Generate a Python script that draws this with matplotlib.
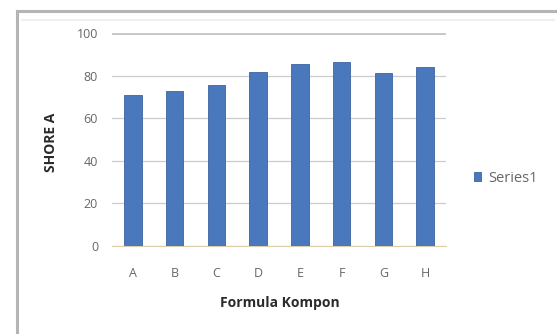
import matplotlib
matplotlib.use("Agg")
import matplotlib.pyplot as plt
from matplotlib.lines import Line2D

categories = ["A", "B", "C", "D", "E", "F", "G", "H"]
shore_a = [71, 73, 75.5, 81.5, 85.5, 86.5, 81, 84]
y_ticks = [0, 20, 40, 60, 80, 100]

plt.rcParams["font.family"] = ["Open Sans", "DejaVu Sans"]

W, H = 557, 334
fig = plt.figure(figsize=(W / 100, H / 100), dpi=100)
fig.patch.set_facecolor("white")

# chart frame
fig.add_artist(Line2D([17/W, 17/W], [0, 1 - 11/H], color="#b4b4b4", lw=2.2,
                      transform=fig.transFigure))
fig.add_artist(Line2D([17/W, 1], [1 - 11/H, 1 - 11/H], color="#b4b4b4", lw=2.2,
                      transform=fig.transFigure))
fig.add_artist(Line2D([22/W, 0.995], [1 - 20/H, 1 - 20/H], color="#f0f0f0", lw=1.5,
                      transform=fig.transFigure))

left, bottom, top, right = 112, 246, 33, 446
ax = fig.add_axes([left / W, 1 - bottom / H, (right - left) / W, (bottom - top) / H])
x = range(len(categories))
ax.bar(x, shore_a, width=0.42, color="#4a78bc", edgecolor="#3d63a0",
       linewidth=0.6, label="Series1", zorder=3)

ax.set_xlim(-0.5, len(categories) - 0.5)
ax.set_ylim(0, 100)
ax.set_yticks(y_ticks)
ax.set_xticks(list(x))
ax.set_xticklabels(categories)
ax.grid(axis="y", color="#cccccc", lw=0.9, zorder=0)
ax.axhline(100, color="#bdbdbd", lw=2.0, zorder=1)
for side in ("top", "right", "left"):
    ax.spines[side].set_visible(False)
ax.spines["bottom"].set_color("#dccfae")
ax.tick_params(axis="both", length=0, labelsize=9, colors="#666666")
ax.tick_params(axis="y", pad=10)
ax.tick_params(axis="x", pad=15)

ax.set_ylabel("SHORE A", fontsize=10, fontweight="bold", color="#2a2a2a", va="center")
ax.set_xlabel("Formula Kompon", fontsize=10, fontweight="bold", color="#2a2a2a", va="center")
ax.yaxis.set_label_coords((51 - left) / (right - left), (bottom - 142) / (bottom - top))
ax.xaxis.set_label_coords((280 - left) / (right - left), -(303 - bottom) / (bottom - top))

ax.legend(loc="center left", bbox_to_anchor=(1.045, (bottom - 178) / (bottom - top)),
          frameon=False, fontsize=10.5, handlelength=0.5, handleheight=0.55,
          handletextpad=0.45, labelcolor="#666666")

fig.savefig("out.png", dpi=100, facecolor="white")
